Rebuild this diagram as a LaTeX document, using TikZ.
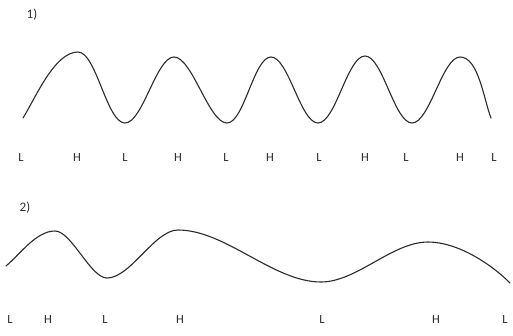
\documentclass[tikz,border=0pt]{standalone}
\usepackage{fontspec}
\setmainfont{Carlito}
\usepackage{tikz}
\usetikzlibrary{positioning}
\definecolor{inkgray}{HTML}{2B2B2B}

\begin{document}
\begin{tikzpicture}[x=1pt,y=1pt,
  wave/.style={draw=inkgray,line width=1.1pt,line cap=round},
  lvl/.style={font=\fontsize{12.5}{13}\selectfont,text=inkgray,inner sep=0pt},
  tag/.style={font=\fontsize{13}{14}\selectfont,text=inkgray,inner sep=0pt}
]
\useasboundingbox (0,0) rectangle (513,335);
% 1) short, regular waves
\node[tag] (tagone) at (32,320) {1)};
\coordinate (a0) at (23,217);
\coordinate (a1) at (78,283);
\coordinate (a2) at (125,212);
\coordinate (a3) at (174,278);
\coordinate (a4) at (227,212);
\coordinate (a5) at (271,278);
\coordinate (a6) at (318,212);
\coordinate (a7) at (365,279);
\coordinate (a8) at (412,212);
\coordinate (a9) at (460,278);
\coordinate (a10) at (491,217);
\draw[wave,looseness=0.55] (a0) to[out=58,in=180,looseness=0.7] (a1) to[out=0,in=180] (a2)
  to[out=0,in=180] (a3) to[out=0,in=180] (a4) to[out=0,in=180] (a5)
  to[out=0,in=180] (a6) to[out=0,in=180] (a7) to[out=0,in=180] (a8)
  to[out=0,in=180] (a9) to[out=0,in=112,looseness=0.7] (a10);
\foreach \x/\t [count=\i] in {21/L,77/H,125/L,178/H,226/L,270/H,319/L,365/H,406/L,460/H,494/L}
  \node[lvl] (la\i) at (\x,178) {\t};
% 2) long, irregular waves
\node[tag] (tagtwo) at (25,127) {2)};
\coordinate (b0) at (6,69);
\coordinate (b1) at (55,104);
\coordinate (b2) at (107,57);
\coordinate (b3) at (178,105);
\coordinate (b4) at (321,53);
\coordinate (b5) at (428,93);
\coordinate (b6) at (510,52);
\draw[wave,looseness=0.8] (b0) to[out=40,in=180] (b1) to[out=0,in=180,looseness=0.6] (b2)
  to[out=0,in=180,looseness=0.7] (b3) to[out=0,in=180] (b4) to[out=0,in=180] (b5)
  to[out=0,in=135] (b6);
\foreach \x/\t [count=\i] in {10/L,48/H,105/L,180/H,322/L,436/H,505/L}
  \node[lvl] (lb\i) at (\x,16) {\t};
\end{tikzpicture}
\end{document}
